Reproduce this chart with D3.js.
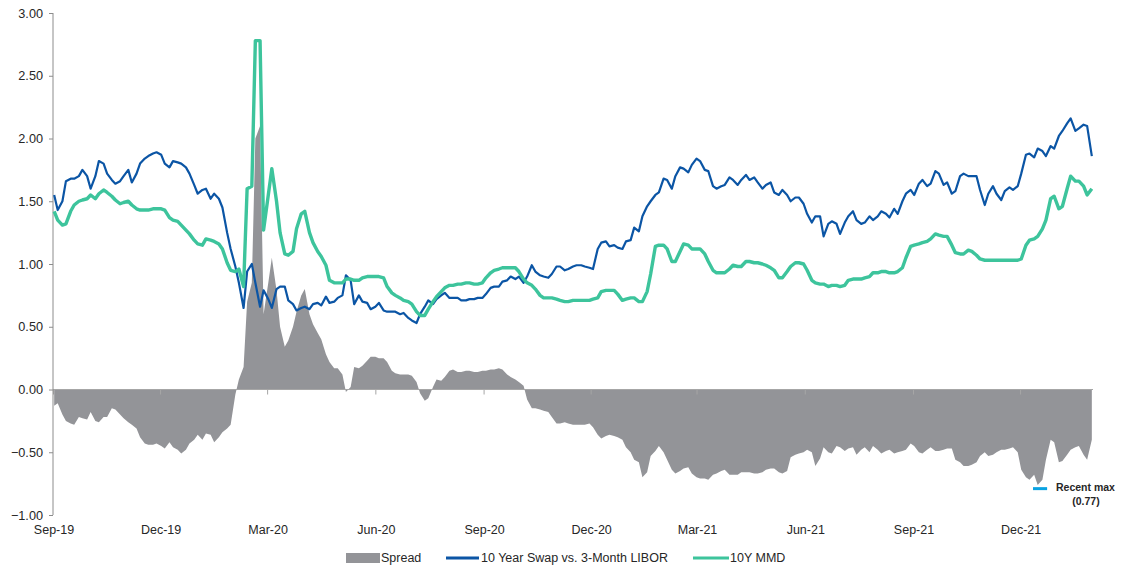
<!DOCTYPE html>
<html>
<head>
<meta charset="utf-8">
<script src="https://cdn.jsdelivr.net/npm/d3@7"></script>
<style>
  body { margin: 0; background: #fff; }
  svg text { font-family: "Liberation Sans", Arial, sans-serif; fill: #262626; }
</style>
</head>
<body>
<svg id="chart" width="1128" height="566"></svg>
<script>
// two readings a week (Monday, Thursday), starting on this Monday
const startDate = "2019-09-02"

const swap10y = [
  1.55, 1.43, 1.50, 1.66, 1.68, 1.68, 1.70, 1.75, 1.70, 1.60,
  1.70, 1.82, 1.80, 1.72, 1.67, 1.64, 1.66, 1.70, 1.75, 1.65,
  1.72, 1.80, 1.84, 1.86, 1.88, 1.89, 1.87, 1.80, 1.77, 1.82,
  1.81, 1.80, 1.77, 1.72, 1.63, 1.56, 1.59, 1.60, 1.52, 1.56,
  1.52, 1.45, 1.25, 1.12, 0.98, 0.85, 0.65, 0.94, 1.00, 0.85,
  0.66, 0.79, 0.72, 0.65, 0.80, 0.82, 0.82, 0.71, 0.68, 0.63,
  0.65, 0.66, 0.64, 0.68, 0.69, 0.67, 0.74, 0.69, 0.70, 0.73,
  0.75, 0.91, 0.87, 0.68, 0.75, 0.70, 0.69, 0.64, 0.66, 0.69,
  0.63, 0.62, 0.62, 0.62, 0.60, 0.61, 0.57, 0.55, 0.53, 0.60,
  0.66, 0.71, 0.68, 0.72, 0.75, 0.77, 0.73, 0.73, 0.73, 0.71,
  0.71, 0.72, 0.72, 0.73, 0.73, 0.76, 0.81, 0.82, 0.82, 0.86,
  0.87, 0.90, 0.88, 0.90, 0.85, 0.90, 0.99, 0.94, 0.91, 0.90,
  0.89, 0.92, 0.98, 0.98, 0.95, 0.96, 0.98, 0.99, 0.99, 0.98,
  0.97, 0.96, 1.12, 1.17, 1.18, 1.14, 1.15, 1.13, 1.12, 1.18,
  1.19, 1.29, 1.26, 1.38, 1.46, 1.50, 1.55, 1.57, 1.68, 1.67,
  1.60, 1.70, 1.77, 1.76, 1.73, 1.79, 1.84, 1.82, 1.75, 1.74,
  1.62, 1.60, 1.62, 1.63, 1.69, 1.67, 1.63, 1.67, 1.71, 1.67,
  1.69, 1.65, 1.60, 1.63, 1.65, 1.57, 1.55, 1.59, 1.55, 1.50,
  1.53, 1.53, 1.48, 1.40, 1.33, 1.38, 1.38, 1.22, 1.32, 1.34,
  1.32, 1.24, 1.33, 1.38, 1.42, 1.35, 1.32, 1.33, 1.38, 1.35,
  1.38, 1.42, 1.40, 1.37, 1.44, 1.40, 1.50, 1.56, 1.59, 1.55,
  1.64, 1.67, 1.62, 1.64, 1.74, 1.72, 1.63, 1.65, 1.56, 1.58,
  1.70, 1.72, 1.70, 1.70, 1.70, 1.59, 1.47, 1.56, 1.62, 1.56,
  1.51, 1.58, 1.61, 1.59, 1.62, 1.72, 1.87, 1.88, 1.85, 1.92,
  1.90, 1.86, 1.94, 1.92, 2.02, 2.06, 2.12, 2.16, 2.06, 2.08,
  2.11, 2.10, 1.86
]

const mmd10y = [
  1.42, 1.35, 1.31, 1.32, 1.42, 1.47, 1.50, 1.51, 1.52, 1.55,
  1.52, 1.56, 1.59, 1.57, 1.54, 1.51, 1.48, 1.49, 1.50, 1.47,
  1.44, 1.43, 1.43, 1.43, 1.44, 1.44, 1.44, 1.43, 1.37, 1.35,
  1.34, 1.31, 1.27, 1.24, 1.19, 1.16, 1.15, 1.20, 1.19, 1.18,
  1.16, 1.12, 1.01, 0.95, 0.94, 0.96, 0.82, 1.60, 1.62, 2.78,
  2.78, 1.27, 1.55, 1.76, 1.50, 1.25, 1.08, 1.07, 1.10, 1.28,
  1.40, 1.42, 1.25, 1.17, 1.10, 1.06, 0.99, 0.87, 0.85, 0.85,
  0.85, 0.88, 0.88, 0.87, 0.87, 0.89, 0.90, 0.90, 0.90, 0.90,
  0.89, 0.82, 0.77, 0.75, 0.73, 0.71, 0.70, 0.68, 0.62, 0.59,
  0.59, 0.64, 0.70, 0.74, 0.78, 0.81, 0.83, 0.83, 0.84, 0.84,
  0.85, 0.85, 0.84, 0.84, 0.85, 0.89, 0.93, 0.95, 0.96, 0.97,
  0.97, 0.97, 0.97, 0.94, 0.88, 0.85, 0.83, 0.80, 0.75, 0.73,
  0.73, 0.73, 0.72, 0.71, 0.70, 0.70, 0.71, 0.71, 0.71, 0.71,
  0.71, 0.72, 0.73, 0.78, 0.79, 0.79, 0.79, 0.76, 0.71, 0.72,
  0.73, 0.73, 0.70, 0.70, 0.78, 0.92, 1.14, 1.15, 1.15, 1.12,
  1.02, 1.02, 1.10, 1.16, 1.15, 1.12, 1.12, 1.12, 1.08, 1.02,
  0.95, 0.93, 0.93, 0.93, 0.96, 0.99, 0.98, 0.98, 1.02, 1.02,
  1.01, 1.01, 1.00, 0.99, 0.97, 0.95, 0.89, 0.89, 0.94, 0.98,
  1.01, 1.01, 1.00, 0.95, 0.87, 0.85, 0.84, 0.84, 0.82, 0.83,
  0.83, 0.82, 0.83, 0.87, 0.88, 0.88, 0.88, 0.89, 0.90, 0.93,
  0.93, 0.94, 0.94, 0.93, 0.93, 0.94, 0.97, 1.05, 1.14, 1.15,
  1.16, 1.17, 1.18, 1.20, 1.24, 1.23, 1.22, 1.22, 1.15, 1.09,
  1.08, 1.08, 1.11, 1.10, 1.07, 1.04, 1.03, 1.03, 1.03, 1.03,
  1.03, 1.03, 1.03, 1.03, 1.03, 1.04, 1.15, 1.19, 1.20, 1.22,
  1.28, 1.35, 1.52, 1.54, 1.44, 1.46, 1.60, 1.70, 1.66, 1.66,
  1.62, 1.55, 1.60
]

const spread = [
  -0.13, -0.11, -0.20, -0.25, -0.27, -0.28, -0.22, -0.23, -0.24, -0.18,
  -0.25, -0.26, -0.22, -0.22, -0.15, -0.16, -0.20, -0.23, -0.26, -0.28,
  -0.31, -0.38, -0.43, -0.44, -0.44, -0.43, -0.45, -0.47, -0.42, -0.46,
  -0.48, -0.51, -0.48, -0.43, -0.40, -0.36, -0.40, -0.35, -0.36, -0.42,
  -0.38, -0.34, -0.31, -0.28, -0.04, 0.08, 0.18, 0.70, 0.85, 2.00,
  2.10, 0.60, 0.85, 1.05, 0.79, 0.50, 0.34, 0.39, 0.50, 0.62,
  0.75, 0.80, 0.60, 0.52, 0.45, 0.40, 0.28, 0.22, 0.17, 0.17,
  0.12, -0.02, 0.02, 0.18, 0.17, 0.19, 0.23, 0.26, 0.26, 0.25,
  0.25, 0.22, 0.15, 0.13, 0.12, 0.12, 0.12, 0.11, 0.06, -0.03,
  -0.09, -0.07, 0.02, 0.08, 0.07, 0.10, 0.15, 0.16, 0.14, 0.14,
  0.15, 0.15, 0.14, 0.14, 0.15, 0.15, 0.16, 0.16, 0.17, 0.16,
  0.12, 0.10, 0.08, 0.06, 0.03, -0.08, -0.15, -0.15, -0.16, -0.17,
  -0.18, -0.22, -0.27, -0.27, -0.26, -0.27, -0.28, -0.28, -0.28, -0.28,
  -0.27, -0.30, -0.36, -0.39, -0.37, -0.36, -0.37, -0.38, -0.40, -0.46,
  -0.50, -0.56, -0.58, -0.70, -0.66, -0.53, -0.49, -0.45, -0.50, -0.56,
  -0.64, -0.67, -0.65, -0.63, -0.62, -0.67, -0.70, -0.71, -0.71, -0.72,
  -0.68, -0.67, -0.65, -0.64, -0.68, -0.68, -0.68, -0.66, -0.66, -0.66,
  -0.67, -0.67, -0.66, -0.64, -0.63, -0.63, -0.66, -0.67, -0.65, -0.54,
  -0.52, -0.51, -0.50, -0.48, -0.50, -0.61, -0.55, -0.46, -0.50, -0.51,
  -0.45, -0.46, -0.49, -0.47, -0.46, -0.52, -0.48, -0.46, -0.50, -0.45,
  -0.48, -0.51, -0.49, -0.48, -0.51, -0.50, -0.49, -0.48, -0.43, -0.45,
  -0.50, -0.51, -0.48, -0.46, -0.49, -0.49, -0.48, -0.47, -0.47, -0.56,
  -0.58, -0.61, -0.61, -0.60, -0.58, -0.53, -0.50, -0.53, -0.52, -0.50,
  -0.48, -0.48, -0.47, -0.46, -0.50, -0.64, -0.70, -0.72, -0.68, -0.76,
  -0.72, -0.56, -0.40, -0.42, -0.58, -0.57, -0.52, -0.48, -0.46, -0.45,
  -0.52, -0.56, -0.40
]

const xTickLabels = ["Sep-19", "Dec-19", "Mar-20", "Jun-20", "Sep-20", "Dec-20", "Mar-21", "Jun-21", "Sep-21", "Dec-21"]
const yTicks = [-1, -0.5, 0, 0.5, 1, 1.5, 2, 2.5, 3]
const recentMax = { date: "2021-12-18", value: -0.77, label: "(0.77)" }

const colors = { spread: "#939498", swap: "#0b55a5", mmd: "#3dc49c", marker: "#0aa3e2" }

const svg = d3.select("#chart")
const plotLeft = 53, plotRight = 1093, plotTop = 13, plotBottom = 515

const parseDay = d3.timeParse("%Y-%m-%d")
const parseTick = d3.timeParse("%b-%y")
const start = parseDay(startDate)
// Monday / Thursday of each week
const dates = swap10y.map((_, i) => d3.timeDay.offset(start, 7 * Math.floor(i / 2) + 3 * (i % 2)))

const x = d3.scaleTime()
  .domain([parseDay("2019-09-01"), parseDay("2022-02-01")])
  .range([plotLeft, plotRight])

const y = d3.scaleLinear()
  .domain([-1, 3])
  .range([plotBottom, plotTop])

// spread area
const area = d3.area()
  .x((d, i) => x(dates[i]))
  .y0(y(0))
  .y1(d => y(d))

svg.append("path")
  .datum(spread)
  .attr("d", area)
  .attr("fill", colors.spread)

// zero axis with ticks hanging below
svg.append("g")
  .attr("transform", `translate(0,${y(0)})`)
  .call(d3.axisBottom(x).tickValues(xTickLabels.map(parseTick)).tickSize(5).tickFormat(""))
  .call(g => g.select(".domain").attr("stroke", "#a6a6a6").attr("d", `M${plotLeft},0H${plotRight}`))
  .call(g => g.selectAll(".tick line").attr("stroke", "#a6a6a6"))

// x labels along the bottom
svg.append("g")
  .selectAll("text")
  .data(xTickLabels)
  .join("text")
  .attr("x", d => x(parseTick(d)) + 1)
  .attr("y", 534)
  .attr("text-anchor", "middle")
  .attr("font-size", 12.5)
  .text(d => d)

// y axis
svg.append("g")
  .attr("transform", `translate(${plotLeft},0)`)
  .call(d3.axisLeft(y).tickValues(yTicks).tickSize(4).tickPadding(6).tickFormat(d3.format(".2f")))
  .call(g => g.select(".domain").attr("stroke", "#8c8c8c").attr("d", `M0,${plotTop}V${plotBottom}`))
  .call(g => g.selectAll(".tick line").attr("stroke", "#8c8c8c"))
  .call(g => g.selectAll(".tick text").attr("font-size", 12.7).attr("fill", "#262626")
    .attr("font-family", '"Liberation Sans", Arial, sans-serif'))

const line = d3.line()
  .x((d, i) => x(dates[i]))
  .y(d => y(d))

svg.append("path")
  .datum(swap10y)
  .attr("d", line)
  .attr("fill", "none")
  .attr("stroke", colors.swap)
  .attr("stroke-width", 2.2)
  .attr("stroke-linejoin", "round")

svg.append("path")
  .datum(mmd10y)
  .attr("d", line)
  .attr("fill", "none")
  .attr("stroke", colors.mmd)
  .attr("stroke-width", 3.4)
  .attr("stroke-linejoin", "round")

// recent max marker
const mDate = parseDay(recentMax.date)
svg.append("line")
  .attr("x1", x(d3.timeDay.offset(mDate, -6)))
  .attr("x2", x(d3.timeDay.offset(mDate, 6)))
  .attr("y1", y(recentMax.value) + 2.5)
  .attr("y2", y(recentMax.value) + 2.5)
  .attr("stroke", colors.marker)
  .attr("stroke-width", 3)

svg.append("text")
  .attr("x", 1056).attr("y", 491)
  .attr("font-size", 10.5).attr("font-weight", "bold")
  .text("Recent max")
svg.append("text")
  .attr("x", 1086).attr("y", 505)
  .attr("text-anchor", "middle")
  .attr("font-size", 10.5).attr("font-weight", "bold")
  .text(recentMax.label)

// legend
const legend = svg.append("g").attr("font-size", 12.5)
legend.append("rect")
  .attr("x", 346).attr("y", 553).attr("width", 34).attr("height", 10)
  .attr("fill", colors.spread)
legend.append("text").attr("x", 381).attr("y", 562).text("Spread")

legend.append("line")
  .attr("x1", 446).attr("x2", 479).attr("y1", 558).attr("y2", 558)
  .attr("stroke", colors.swap).attr("stroke-width", 3)
legend.append("text").attr("x", 481).attr("y", 562).text("10 Year Swap vs. 3-Month LIBOR")

legend.append("line")
  .attr("x1", 693).attr("x2", 729).attr("y1", 558).attr("y2", 558)
  .attr("stroke", colors.mmd).attr("stroke-width", 3)
legend.append("text").attr("x", 730).attr("y", 562).text("10Y MMD")
</script>
</body>
</html>
